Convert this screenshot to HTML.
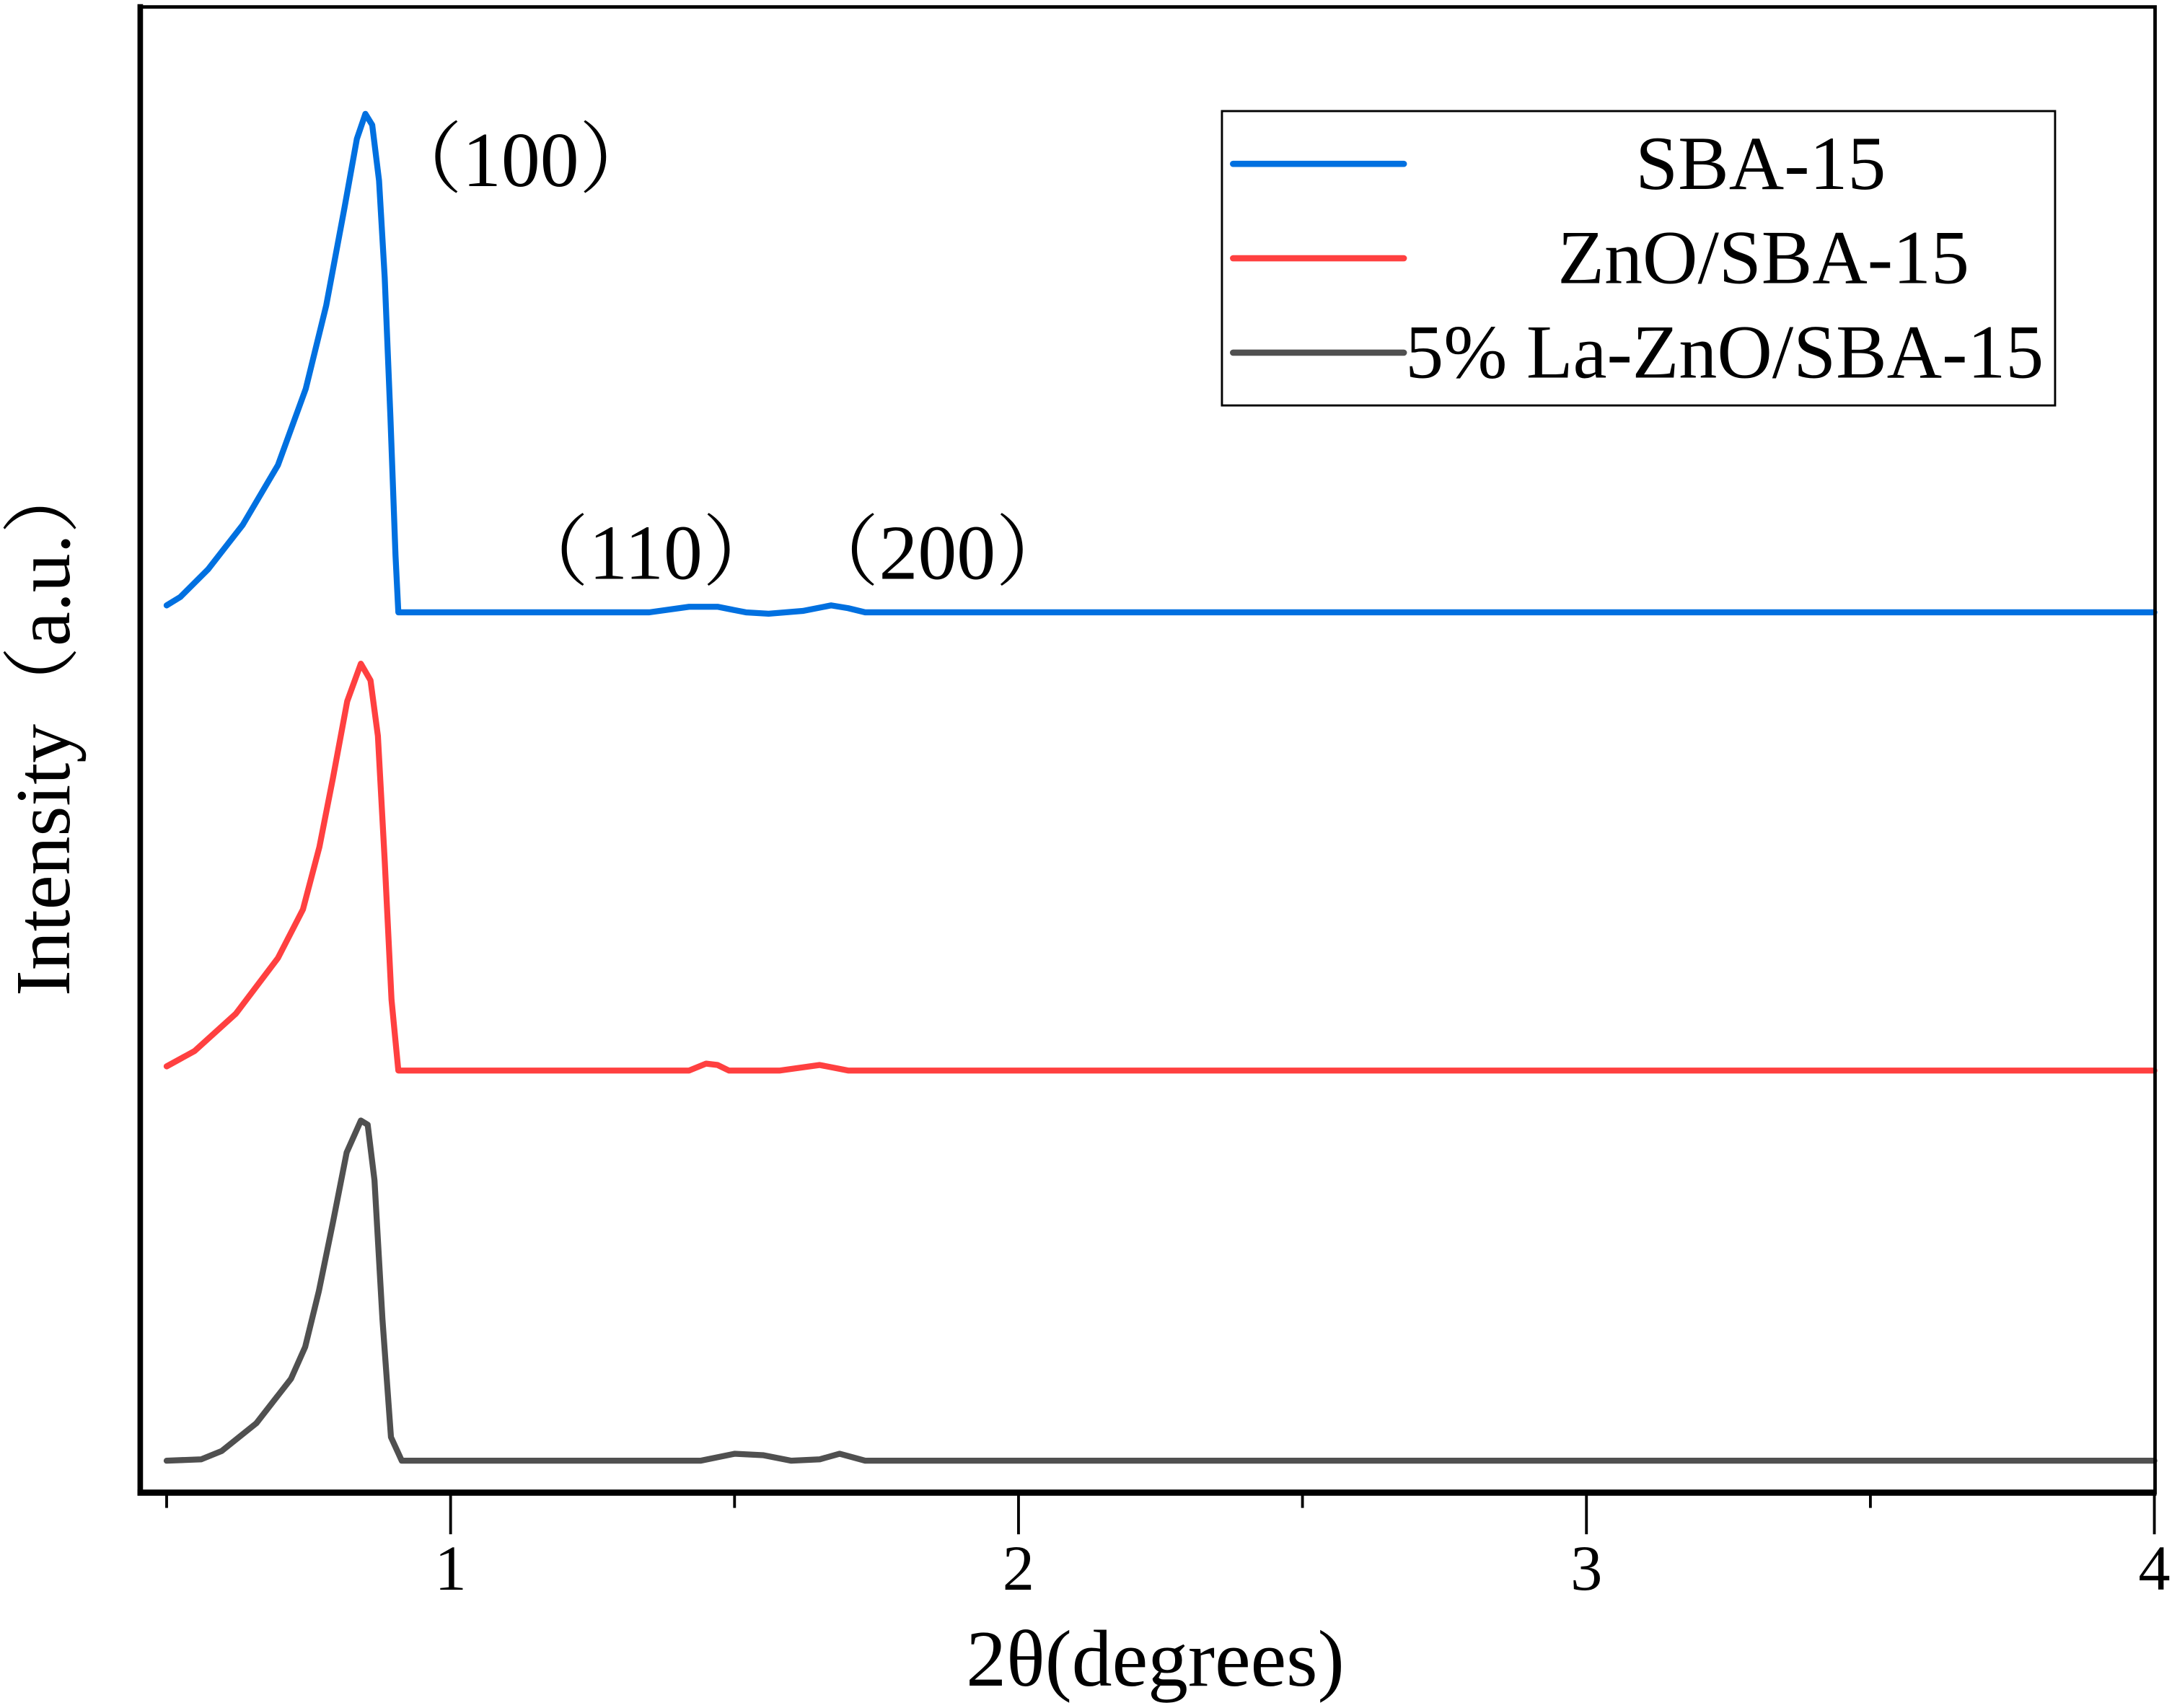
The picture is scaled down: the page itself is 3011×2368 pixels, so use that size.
<!DOCTYPE html>
<html><head><meta charset="utf-8"><style>
html,body{margin:0;padding:0;background:#fff;}
svg{display:block;}
text{font-family:"Liberation Serif","Noto Serif CJK SC",serif;fill:#000;}
</style></head><body>
<svg id="chart" width="3011" height="2368" viewBox="0 0 1564.2 1230.1" preserveAspectRatio="none" xmlns="http://www.w3.org/2000/svg">
<g id="series"></g>
<rect x="101" y="5" width="1451" height="1070" fill="none" stroke="#000" stroke-width="2.5"/>
<line x1="99" y1="1075" x2="1553" y2="1075" stroke="#000" stroke-width="4.5"/>
<line x1="101" y1="3" x2="101" y2="1077" stroke="#000" stroke-width="4"/>
<g id="ticks"></g>
<text x="832" y="1214" font-size="58" text-anchor="middle">2θ(degrees)</text>
<text transform="translate(50,523) rotate(-90)" font-size="56" text-anchor="middle">Intensity（a.u.）</text>
<text x="375" y="134" font-size="56" text-anchor="middle">（100）</text>
<text x="465" y="417" font-size="56" text-anchor="middle">（110）</text>
<text x="675" y="417" font-size="56" text-anchor="middle">（200）</text>
<g>
<rect x="880" y="80" width="600" height="212" fill="none" stroke="#000" stroke-width="1.5"/>
<line x1="888" y1="118" x2="1011" y2="118" stroke="#0070E0" stroke-width="4.5" stroke-linecap="round"/>
<line x1="888" y1="186" x2="1011" y2="186" stroke="#FF4040" stroke-width="4.5" stroke-linecap="round"/>
<line x1="888" y1="254" x2="1011" y2="254" stroke="#505050" stroke-width="4.5" stroke-linecap="round"/>
<text x="1268" y="136" font-size="55" text-anchor="middle">SBA-15</text>
<text x="1270" y="204" font-size="55" text-anchor="middle">ZnO/SBA-15</text>
<text x="1242" y="272" font-size="55" text-anchor="middle">5% La-ZnO/SBA-15</text>
</g>
</svg>
<script>
const blueX=[0.5,0.524,0.573,0.634,0.696,0.745,0.781,0.813,0.835,0.85,0.862,0.874,0.884,0.894,0.903,0.908,1.35,1.42,1.47,1.52,1.56,1.62,1.67,1.70,1.73,4.0];
const blueY=[616,622,642,674,717,772,832,902,952,970,962,922,852,752,652,611,611,615,615,611,610,612,616,614,611,611];
const redX=[0.5,0.549,0.622,0.696,0.74,0.769,0.793,0.818,0.842,0.859,0.872,0.884,0.896,0.908,1.42,1.45,1.47,1.49,1.58,1.65,1.70,4.0];
const redY=[284,295,322,362,397,442,492,547,574,562,522,432,332,281,281,286,285,281,281,285,281,281];
const grayX=[0.5,0.561,0.597,0.658,0.719,0.744,0.768,0.793,0.817,0.842,0.854,0.866,0.88,0.895,0.914,1.44,1.5,1.55,1.6,1.65,1.685,1.73,4.0];
const grayY=[0,1,7,27,59,82,122,172,222,245,242,202,102,17,0,0,5,4,0,1,5,0,0];
const majorTicks=[1,2,3,4];
const minorTicks=[0.5,1.5,2.5,3.5];
const tickLabels=["1","2","3","4"];
function xs(v){return 120+(v-0.5)*409;}
function ys(v){return 1052-v;}
const NS="http://www.w3.org/2000/svg";
const sg=document.getElementById('series');
function draw(X,Y,color,name){
  const p=document.createElementNS(NS,'polyline');
  
  
  p.setAttribute('points',X.map((x,i)=>xs(x).toFixed(2)+','+ys(Y[i]).toFixed(2)).join(' '));
  p.setAttribute('fill','none');p.setAttribute('stroke',color);
  p.setAttribute('stroke-width','4.3');p.setAttribute('stroke-linejoin','round');p.setAttribute('stroke-linecap','round');
  sg.appendChild(p);
}
draw(blueX,blueY,'#0070E0','series-sba15');
draw(redX,redY,'#FF4040','series-zno-sba15');
draw(grayX,grayY,'#505050','series-la-zno-sba15');
const tg=document.getElementById('ticks');
majorTicks.forEach((t,i)=>{
  const l=document.createElementNS(NS,'line');
  
  
  l.setAttribute('x1',xs(t));l.setAttribute('x2',xs(t));l.setAttribute('y1',1075);l.setAttribute('y2',1105);
  l.setAttribute('stroke','#000');l.setAttribute('stroke-width','2');tg.appendChild(l);
  const tx=document.createElementNS(NS,'text');
  
  
  tx.setAttribute('x',xs(t));tx.setAttribute('y',1145);tx.setAttribute('font-size','46');tx.setAttribute('text-anchor','middle');
  tx.textContent=tickLabels[i];tg.appendChild(tx);
});
minorTicks.forEach(t=>{
  const l=document.createElementNS(NS,'line');
  
  
  l.setAttribute('x1',xs(t));l.setAttribute('x2',xs(t));l.setAttribute('y1',1075);l.setAttribute('y2',1086);
  l.setAttribute('stroke','#000');l.setAttribute('stroke-width','2');tg.appendChild(l);
});
</script>
</body></html>
